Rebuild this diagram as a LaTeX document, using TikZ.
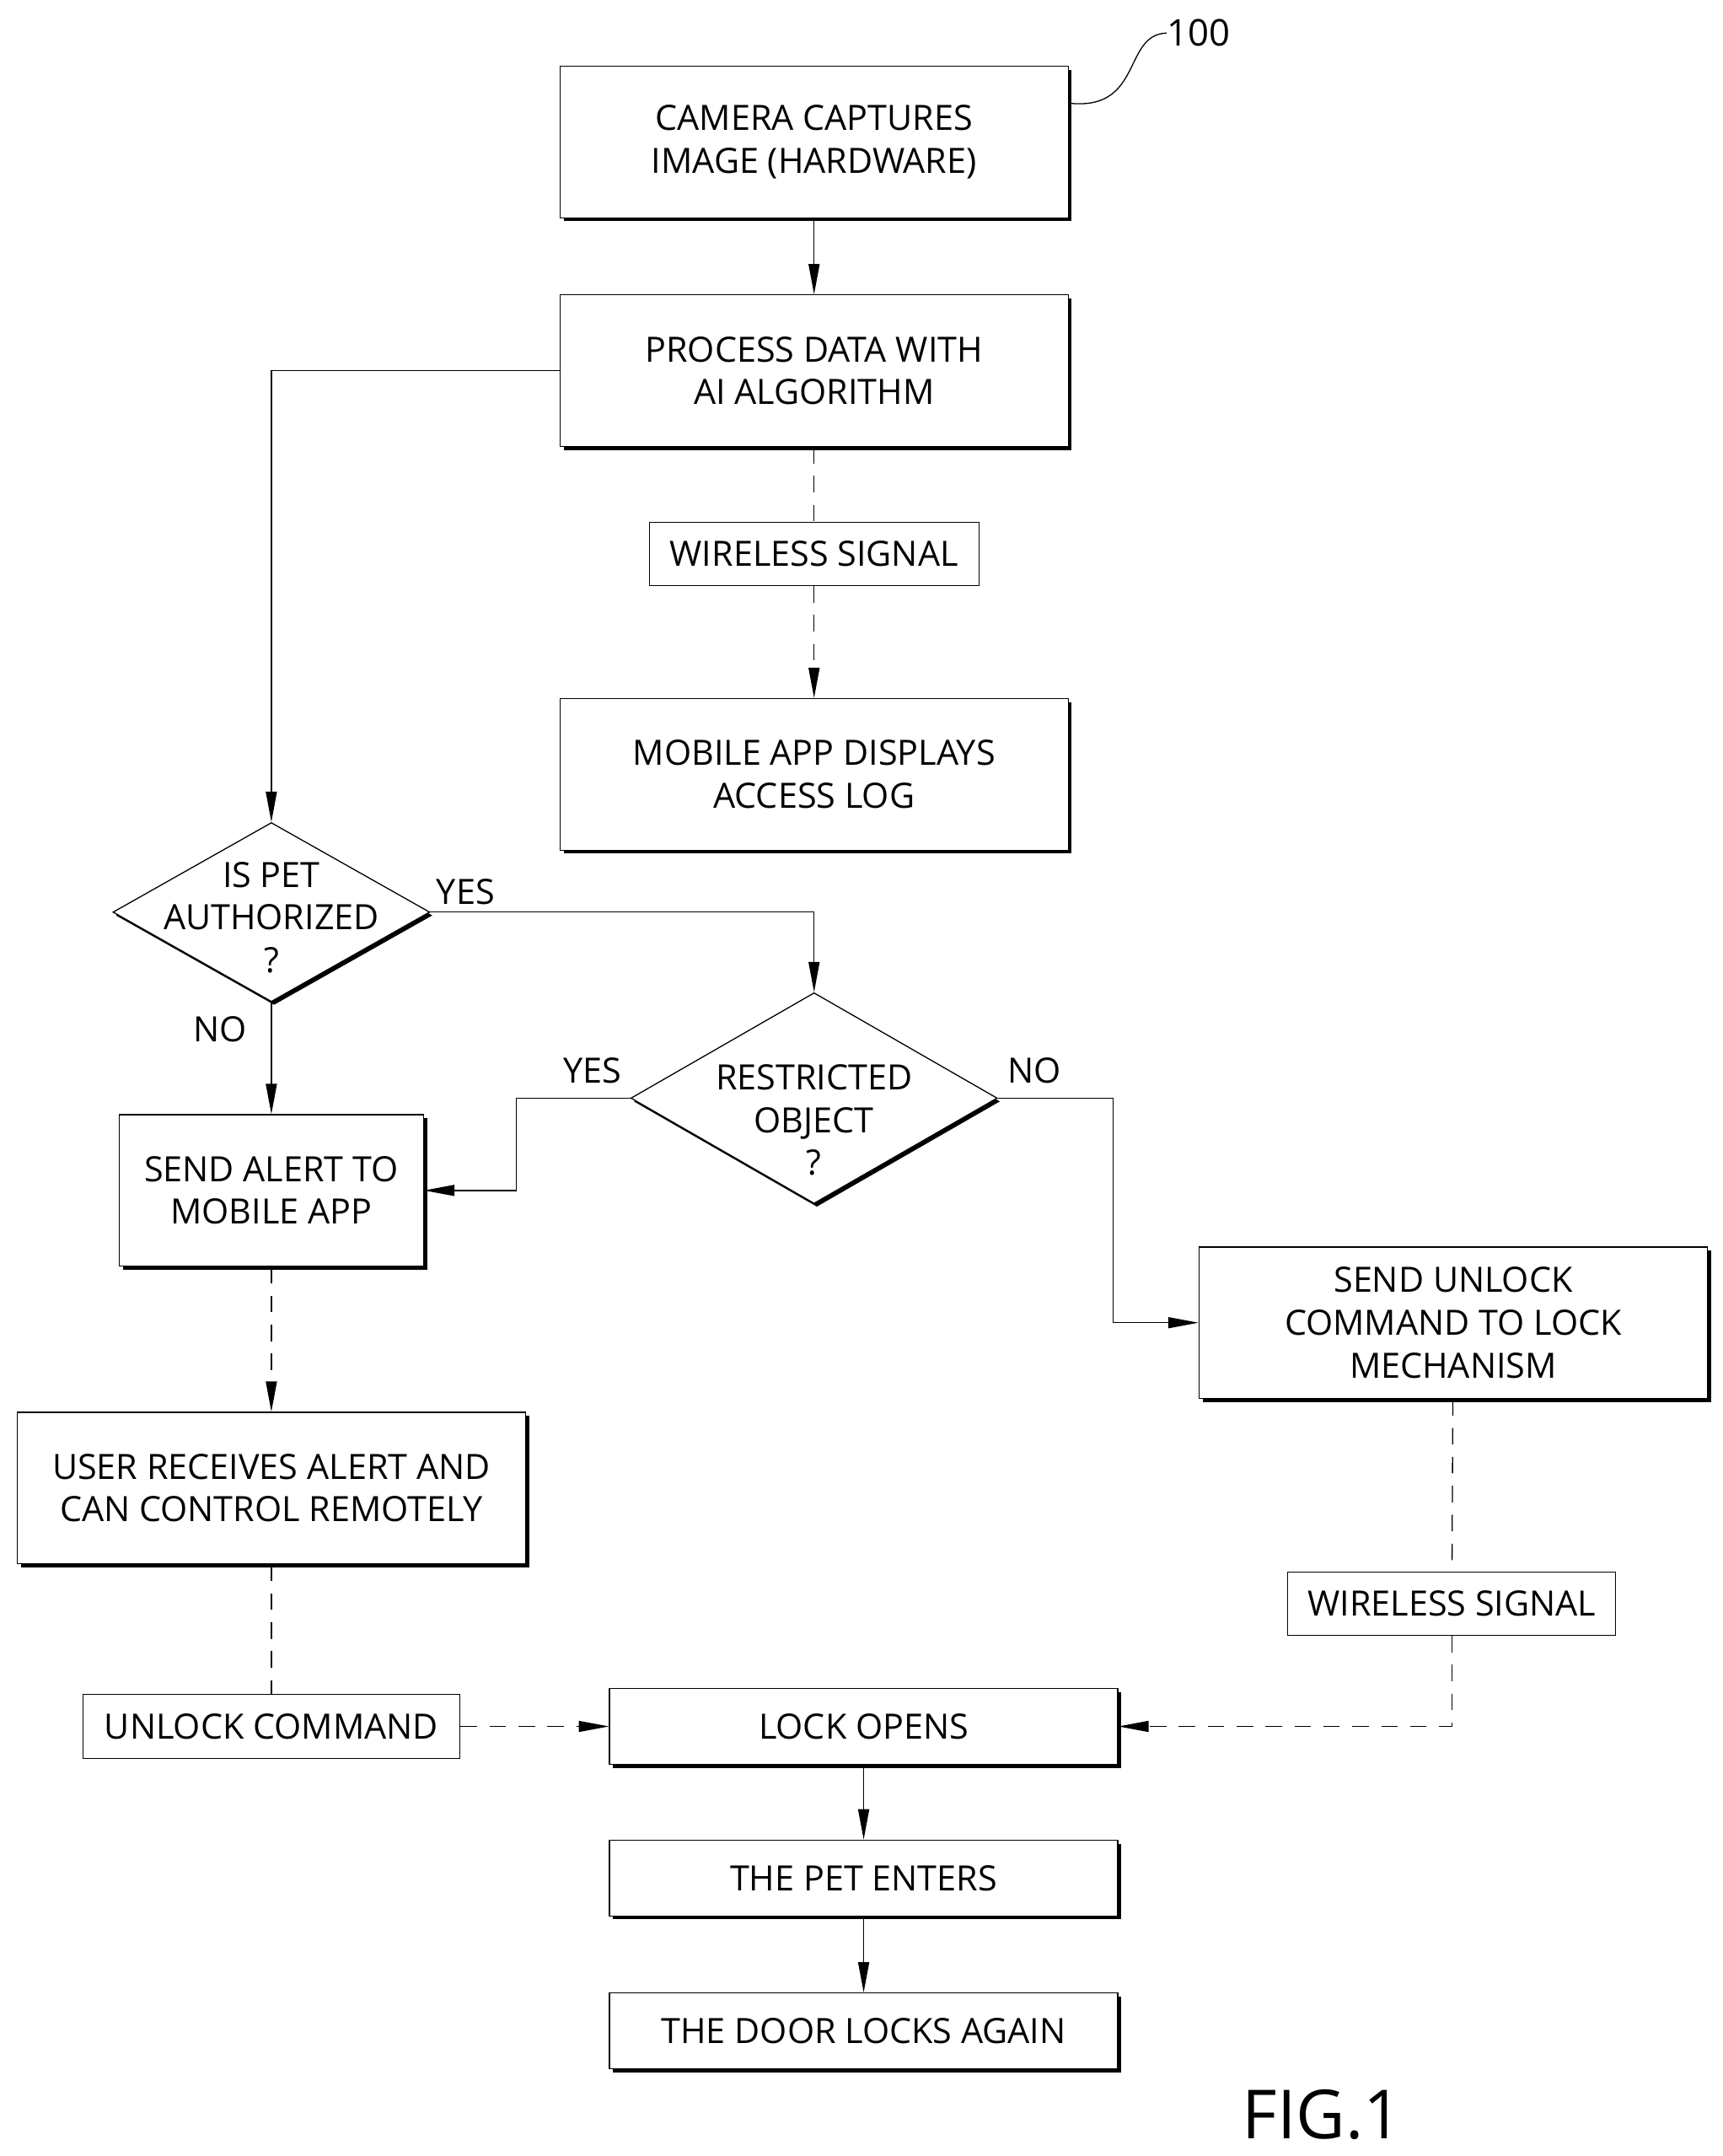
\documentclass[tikz,border=0pt]{standalone}
\usepackage{fontspec}
\setmainfont{Open Sans}
\usetikzlibrary{shapes.geometric,shadows,arrows.meta}
\begin{document}
\begin{tikzpicture}[x=0.05cm,y=-0.05cm,
  every node/.style={font=\fontsize{36}{44}\selectfont, align=center, inner sep=0pt},
  box/.style={draw, line width=0.04cm, minimum width=18.45cm, minimum height=5.5cm, fill=white,
     general shadow={fill=black, shadow xshift=0.13cm, shadow yshift=-0.13cm}},
  sbox/.style={box, minimum height=2.75cm},
  lbl/.style={draw, line width=0.03cm, fill=white, minimum height=2.3cm},
  dia/.style={draw, diamond, line width=0.04cm, fill=white, aspect=1.77,
     general shadow={fill=black, shadow xshift=0.1cm, shadow yshift=-0.12cm}},
  ln/.style={line width=0.04cm},
  arr/.style={ln, -{Triangle[length=1.1cm,width=0.4cm]}},
  dsh/.style={dash pattern=on 0.6cm off 0.45cm}]
\useasboundingbox (0,0) rectangle (1250.3,1564.8);
\node[box] (b1) at (591,103) {CAMERA CAPTURES\\IMAGE (HARDWARE)};
\node[box] (b2) at (591,269) {PROCESS DATA WITH\\AI ALGORITHM};
\node[lbl, minimum width=11.95cm] (w1) at (591,402) {WIRELESS SIGNAL};
\node[box] (b3) at (591,562) {MOBILE APP DISPLAYS\\ACCESS LOG};
\node[dia, minimum width=11.5cm, minimum height=6.5cm] (d1) at (197,662) {};
\node at (197,666) {IS PET\\AUTHORIZED\\?};
\node[dia, minimum width=13.3cm, minimum height=7.65cm] (d2) at (591,797) {};
\node at (591,813) {RESTRICTED\\OBJECT\\?};
\node[box, minimum width=11.05cm] (sa) at (197,864) {SEND ALERT TO\\MOBILE APP};
\node[box] (ul) at (1055,960) {SEND UNLOCK\\COMMAND TO LOCK\\MECHANISM};
\node[box] (ur) at (197,1080) {USER RECEIVES ALERT AND\\CAN CONTROL REMOTELY};
\node[lbl, minimum width=11.9cm] (w2) at (1054,1164) {WIRELESS SIGNAL};
\node[lbl, minimum width=13.7cm] (uc) at (197,1253) {UNLOCK COMMAND};
\node[sbox] (lo) at (627,1253) {LOCK OPENS};
\node[sbox] (pe) at (627,1363) {THE PET ENTERS};
\node[sbox] (dl) at (627,1474) {THE DOOR LOCKS AGAIN};
\node[font=\fontsize{70}{78}\selectfont] (fig) at (960,1535) {FIG.1};
\node[font=\fontsize{38}{42}\selectfont] (ref) at (870,24) {100};
\node (y1) at (338,647) {YES};
\node (n1) at (160,747) {NO};
\node (y2) at (430,777) {YES};
\node (n2) at (751,777) {NO};
\coordinate (lead) at (777,75);
\draw[ln] (lead) .. controls (830,80) and (815,25) .. (ref.west);
\draw[arr] (b1) -- (b2);
\draw[arr] (b2.west) -| (d1.north);
\draw[ln,dsh] (b2) -- (w1);
\draw[arr,dsh] (w1) -- (b3);
\draw[arr] (d1.east) -| (d2.north);
\draw[arr] (d1) -- (sa);
\coordinate (k1) at (375,797);
\draw[arr] (d2.west) -- (k1) |- (sa.east);
\coordinate (k2) at (808,797);
\draw[arr] (d2.east) -- (k2) |- (ul.west);
\draw[arr,dsh] (sa) -- (ur);
\draw[ln,dsh] (ur) -- (uc);
\draw[arr,dsh] (uc) -- (lo);
\draw[ln,dsh] (ul) -- (w2);
\draw[arr,dsh] (w2.south) |- (lo.east);
\draw[arr] (lo) -- (pe);
\draw[arr] (pe) -- (dl);
\end{tikzpicture}
\end{document}
